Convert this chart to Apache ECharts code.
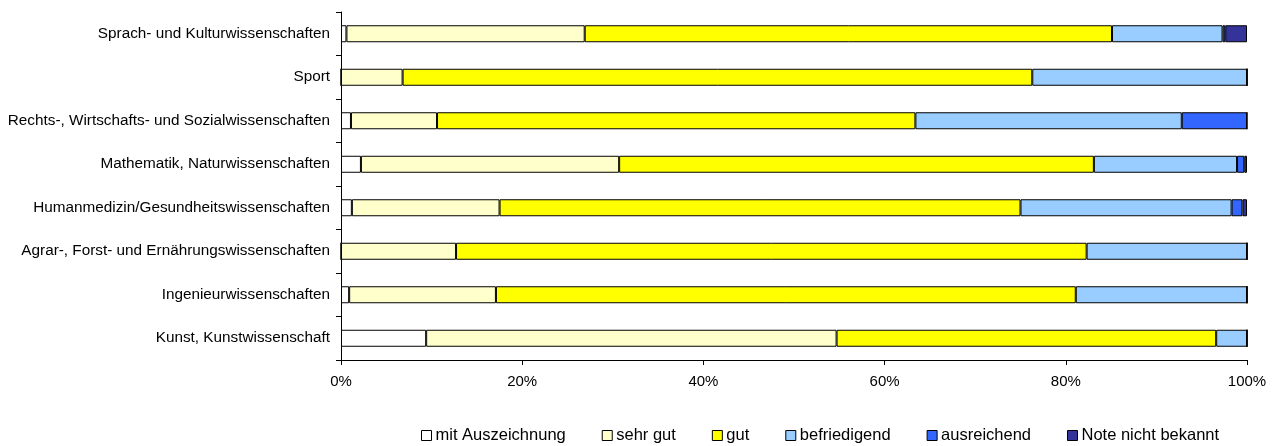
<!DOCTYPE html>
<html>
<head>
<meta charset="utf-8">
<script src="https://cdn.jsdelivr.net/npm/echarts@6/dist/echarts.min.js"></script>
<style>
html,body{margin:0;padding:0;background:#fff;}
#chart{width:1277px;height:446px;}
</style>
</head>
<body>
<div id="chart"></div>
<script>
const categories = [
  "Sprach- und Kulturwissenschaften",
  "Sport",
  "Rechts-, Wirtschafts- und Sozialwissenschaften",
  "Mathematik, Naturwissenschaften",
  "Humanmedizin/Gesundheitswissenschaften",
  "Agrar-, Forst- und Ernährungswissenschaften",
  "Ingenieurwissenschaften",
  "Kunst, Kunstwissenschaft"
];
const seriesNames = ["mit Auszeichnung","sehr gut","gut","befriedigend","ausreichend","Note nicht bekannt"];
const mitAuszeichnung = [0.6, 0, 1.1, 2.2, 1.2, 0, 0.9, 9.4];
const sehrGut        = [26.3, 6.8, 9.5, 28.5, 16.3, 12.7, 16.2, 45.3];
const gut            = [58.2, 69.5, 52.8, 52.4, 57.5, 69.6, 64.0, 41.9];
const befriedigend   = [12.2, 23.7, 29.4, 15.8, 23.3, 17.7, 18.9, 3.4];
const ausreichend    = [0.3, 0, 7.2, 0.8, 1.2, 0, 0, 0];
const nichtBekannt   = [2.4, 0, 0, 0.3, 0.5, 0, 0, 0];
const xTicks = [0, 20, 40, 60, 80, 100];

const values = [mitAuszeichnung, sehrGut, gut, befriedigend, ausreichend, nichtBekannt];
const colors = ["#FFFFFF","#FFFFCC","#FFFF00","#99CCFF","#3366FF","#333399"];
const font = "'Liberation Sans', Arial, sans-serif";

const chart = echarts.init(document.getElementById('chart'));
chart.setOption({
  animation: false,
  backgroundColor: '#fff',
  grid: {left: 341, right: 30, top: 12, bottom: 86, containLabel: false},
  legend: {
    top: 427,
    left: 421,
    padding: 0,
    itemWidth: 10,
    itemHeight: 10,
    itemGap: 36,
    icon: 'rect',
    textStyle: {fontFamily: font, fontSize: 16.5, color: '#000', padding: [0,0,0,-1]},
    data: seriesNames.map((n, i) => ({name: n, itemStyle: {color: colors[i], borderColor: '#000', borderWidth: 1}}))
  },
  xAxis: {
    type: 'value',
    min: xTicks[0],
    max: xTicks[xTicks.length - 1],
    interval: 20,
    axisLine: {show: true, lineStyle: {color: '#000', width: 1}},
    axisTick: {show: true, length: 5, inside: false, lineStyle: {color: '#000'}},
    splitLine: {show: false},
    axisLabel: {formatter: '{value}%', fontFamily: font, fontSize: 15, color: '#000', margin: 14}
  },
  yAxis: {
    type: 'category',
    inverse: true,
    data: categories,
    axisLine: {show: true, lineStyle: {color: '#000', width: 1}},
    axisTick: {show: true, length: 5, lineStyle: {color: '#000'}},
    axisLabel: {fontFamily: font, fontSize: 15.3, color: '#000', margin: 11}
  },
  series: seriesNames.map((n, i) => ({
    name: n,
    type: 'bar',
    stack: 'total',
    barWidth: 17,
    data: values[i],
    itemStyle: {color: colors[i], borderColor: '#000', borderWidth: 1},
    emphasis: {disabled: true}
  }))
});
</script>
</body>
</html>
